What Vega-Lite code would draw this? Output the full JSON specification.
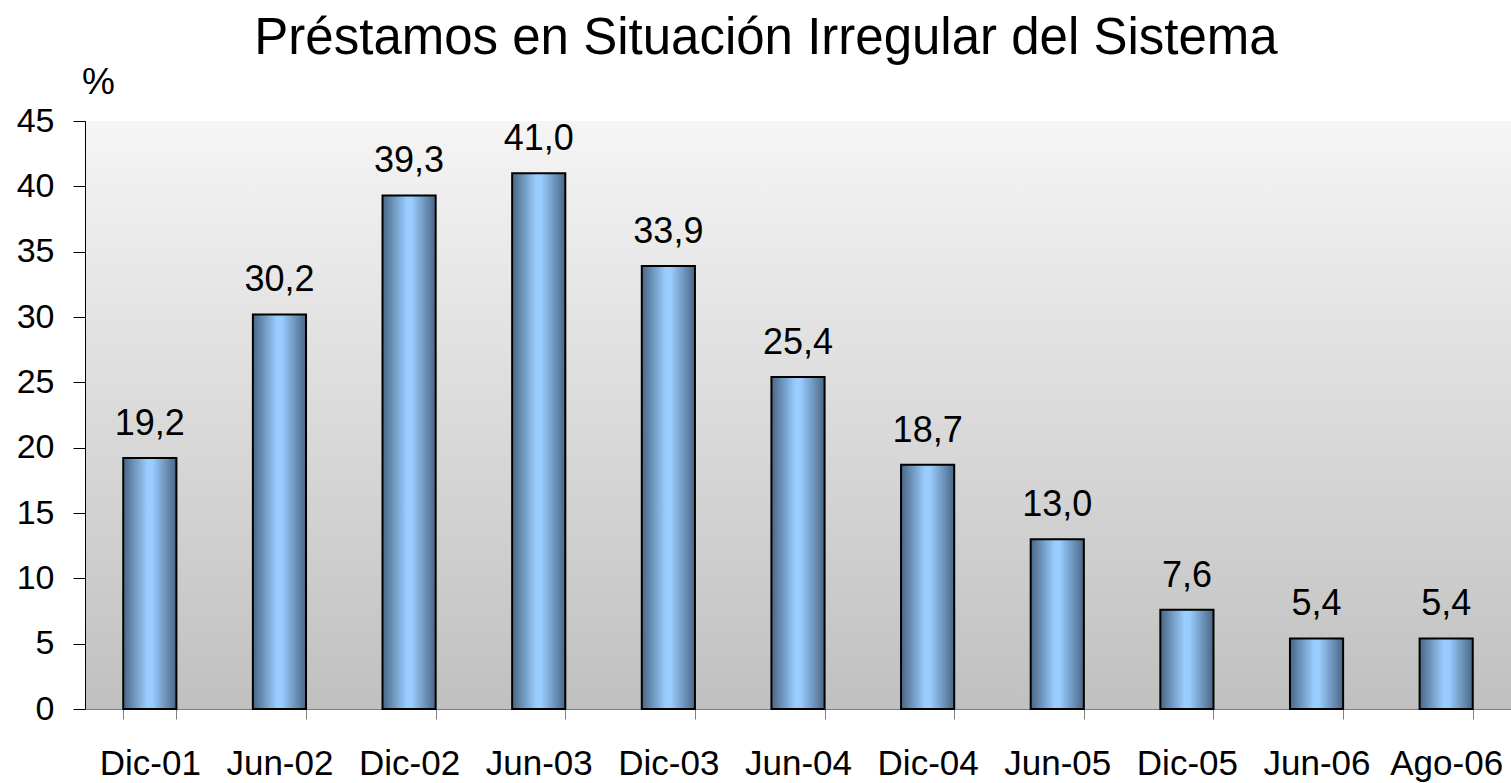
{
  "$schema": "https://vega.github.io/schema/vega-lite/v6.json",
  "width": 1426,
  "height": 588,
  "autosize": {"type": "none"},
  "padding": {"left": 85, "top": 121, "right": 0, "bottom": 74},
  "background": "white",
  "config": {
    "font": "Liberation Sans",
    "locale": {"number": {"decimal": ",", "thousands": ".", "grouping": [3], "currency": ["", " €"]}},
    "view": {
      "stroke": null,
      "fill": {
        "gradient": "linear",
        "x1": 0, "y1": 0, "x2": 0, "y2": 1,
        "stops": [
          {"offset": 0, "color": "#f5f5f5"},
          {"offset": 1, "color": "#c0c0c0"}
        ]
      }
    }
  },
  "title": {
    "text": "Préstamos en Situación Irregular del Sistema",
    "fontSize": 51,
    "font": "Liberation Sans",
    "fontWeight": "normal",
    "color": "black",
    "anchor": "middle",
    "baseline": "alphabetic",
    "dx": -32,
    "dy": 56,
    "offset": 14
  },
  "data": {
    "values": [
      {"periodo": "Dic-01", "valor": 19.2},
      {"periodo": "Jun-02", "valor": 30.2},
      {"periodo": "Dic-02", "valor": 39.3},
      {"periodo": "Jun-03", "valor": 41.0},
      {"periodo": "Dic-03", "valor": 33.9},
      {"periodo": "Jun-04", "valor": 25.4},
      {"periodo": "Dic-04", "valor": 18.7},
      {"periodo": "Jun-05", "valor": 13.0},
      {"periodo": "Dic-05", "valor": 7.6},
      {"periodo": "Jun-06", "valor": 5.4},
      {"periodo": "Ago-06", "valor": 5.4}
    ]
  },
  "encoding": {
    "x": {
      "field": "periodo",
      "type": "nominal",
      "sort": null,
      "scale": {"paddingInner": 0.59, "paddingOuter": 0.295},
      "axis": {
        "title": null,
        "labelAngle": 0,
        "labelFontSize": 35,
        "labelColor": "black",
        "labelPadding": 27,
        "tickBand": "extent",
        "tickSize": 10,
        "tickColor": "#808080",
        "domainColor": "#808080",
        "domainWidth": 1
      }
    },
    "y": {
      "field": "valor",
      "type": "quantitative",
      "scale": {"domain": [0, 45]},
      "axis": {
        "values": [0, 5, 10, 15, 20, 25, 30, 35, 40, 45],
        "title": "%",
        "titleAngle": 0,
        "titleFontSize": 37,
        "titleFontWeight": "normal",
        "titleColor": "black",
        "titleAlign": "center",
        "titleBaseline": "middle",
        "titleX": 13,
        "titleY": -39,
        "labelFontSize": 34,
        "labelColor": "black",
        "labelPadding": 19,
        "tickSize": 12,
        "tickColor": "#000000",
        "domainColor": "#000000",
        "grid": false
      }
    }
  },
  "layer": [
    {
      "mark": {
        "type": "bar",
        "stroke": "black",
        "strokeWidth": 2,
        "color": {
          "gradient": "linear",
          "x1": 0, "y1": 0, "x2": 1, "y2": 0,
          "stops": [
            {"offset": 0, "color": "#4a6684"},
            {"offset": 0.45, "color": "#99ccff"},
            {"offset": 0.55, "color": "#99ccff"},
            {"offset": 1, "color": "#4a6684"}
          ]
        }
      }
    },
    {
      "mark": {"type": "text", "fontSize": 36, "color": "black", "baseline": "alphabetic", "dy": -23},
      "encoding": {
        "text": {"field": "valor", "type": "quantitative", "format": ".1f"}
      }
    }
  ]
}
